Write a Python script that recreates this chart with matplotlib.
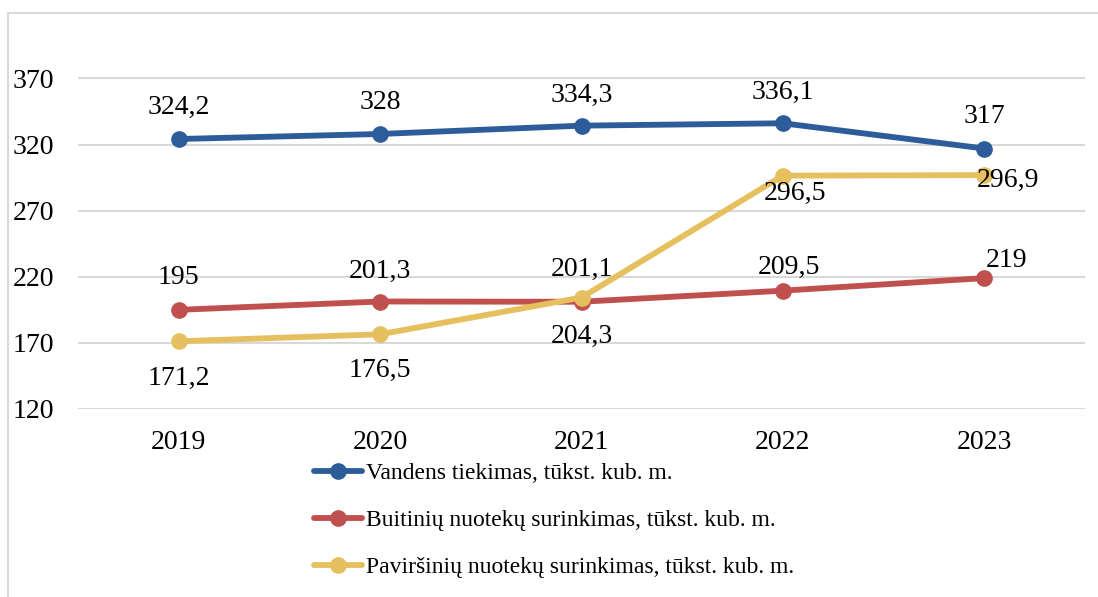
import matplotlib.pyplot as plt
from matplotlib.patches import Rectangle

years = ['2019', '2020', '2021', '2022', '2023']
vandens = [324.2, 328, 334.3, 336.1, 317]
buitiniu = [195, 201.3, 201.1, 209.5, 219]
pavirsiniu = [171.2, 176.5, 204.3, 296.5, 296.9]

series_names = ['Vandens tiekimas, tūkst. kub. m.',
                'Buitinių nuotekų surinkimas, tūkst. kub. m.',
                'Paviršinių nuotekų surinkimas, tūkst. kub. m.']
y_ticks = [120, 170, 220, 270, 320, 370]

plt.rcParams['font.family'] = ['Liberation Serif', 'DejaVu Serif']

W, H = 1098, 597
fig = plt.figure(figsize=(W / 100, H / 100), dpi=100)

# light chart frame, cut off at the right and bottom edges
fig.patches.append(Rectangle((8 / W, -0.1), 1.2, 1 - 13 / H + 0.1,
                             transform=fig.transFigure, fill=False,
                             edgecolor='#D9D9D9', linewidth=1.5))

ax = fig.add_axes([78 / W, 1 - 409 / H, (1085 - 78) / W, 357 / H])
ax.set_xlim(-0.5, 4.5)
ax.set_ylim(120, 390)
ax.set_yticks(y_ticks)
ax.set_xticks(range(len(years)))
ax.set_xticklabels(years)
ax.yaxis.grid(True, color='#D9D9D9', linewidth=1.5)
ax.set_axisbelow(True)
for s in ax.spines.values():
    s.set_visible(False)
ax.tick_params(length=0, labelsize=20, colors='black')
ax.tick_params(axis='x', pad=15)
ax.tick_params(axis='y', pad=47)
for lbl in ax.get_yticklabels():
    lbl.set_horizontalalignment('left')

colors = ['#2C5D9A', '#C0504D', '#E6BF5E']
x = list(range(len(years)))
for vals, c, name in zip([vandens, buitiniu, pavirsiniu], colors, series_names):
    ax.plot(x, vals, color=c, linewidth=4.2, marker='o', markersize=11,
            label=name, solid_capstyle='round', zorder=3)

# data label offsets in points (dx, dy)
blue_off = [(0, 23), (0, 23), (0, 22), (0, 22), (0, 23)]
red_off = [(0, 23), (0, 22), (0, 23), (4, 17), (16, 13)]
yellow_off = [(0, -27), (0, -26), (0, -28), (9, -13), (17, -4)]

for vals, offs in [(vandens, blue_off), (buitiniu, red_off), (pavirsiniu, yellow_off)]:
    for i, (v, (dx, dy)) in enumerate(zip(vals, offs)):
        txt = ('%g' % v).replace('.', ',')
        ax.annotate(txt, (i, v), xytext=(dx, dy), textcoords='offset points',
                    ha='center', va='center', fontsize=20, zorder=4)

fig.legend(loc='upper left', bbox_to_anchor=(302 / W, 1 - 451 / H),
           frameon=False, fontsize=17, handlelength=2.05, handletextpad=0.15,
           labelspacing=1.08, borderpad=0)

fig.savefig('out.png', dpi=100)
